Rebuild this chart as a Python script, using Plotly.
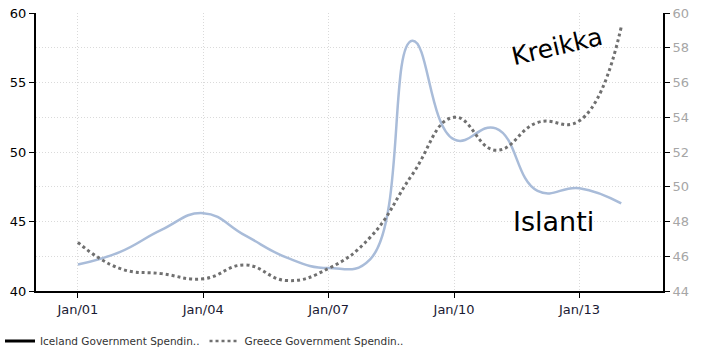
import plotly.graph_objects as go

years = ["2001-01-01", "2002-01-01", "2003-01-01", "2004-01-01", "2005-01-01",
         "2006-01-01", "2007-01-01", "2008-01-01", "2009-01-01", "2010-01-01",
         "2011-01-01", "2012-01-01", "2013-01-01", "2014-01-01"]
iceland = [41.9, 42.8, 44.4, 45.6, 44.0, 42.4, 41.65, 42.3, 58.0, 50.9, 51.7, 47.2, 47.4, 46.3]
greece = [46.8, 45.3, 45.0, 44.7, 45.5, 44.6, 45.3, 47.1, 50.7, 54.0, 52.1, 53.7, 53.8, 59.2]

tick_vals = ["2001-01-01", "2004-01-01", "2007-01-01", "2010-01-01", "2013-01-01"]
tick_text = ["Jan/01", "Jan/04", "Jan/07", "Jan/10", "Jan/13"]
left_ticks = [40, 45, 50, 55, 60]
right_ticks = [44, 46, 48, 50, 52, 54, 56, 58, 60]

fig = go.Figure()
fig.add_trace(go.Scatter(x=years, y=iceland, mode="lines", showlegend=False,
                         line=dict(color="#a9bcd9", width=2.5, shape="spline", smoothing=1.3),
                         yaxis="y"))
fig.add_trace(go.Scatter(x=years, y=greece, mode="lines", showlegend=False,
                         line=dict(color="#707070", width=3, dash="dot", shape="spline", smoothing=1.3),
                         yaxis="y2"))
# legend entries
fig.add_trace(go.Scatter(x=[None], y=[None], mode="lines", name="Iceland Government Spendin..",
                         line=dict(color="black", width=3)))
fig.add_trace(go.Scatter(x=[None], y=[None], mode="lines", name="Greece Government Spendin..",
                         line=dict(color="#707070", width=2.5, dash="dot")))

fig.add_annotation(text="Kreikka", x=0.831, y=0.878, xref="paper", yref="paper",
                   xanchor="center", yanchor="middle",
                   showarrow=False, textangle=-13,
                   font=dict(family="DejaVu Sans", size=25, color="black"))
fig.add_annotation(text="Islanti", x=0.825, y=0.25, xref="paper", yref="paper",
                   xanchor="center", yanchor="middle",
                   showarrow=False,
                   font=dict(family="DejaVu Sans", size=27, color="black"))

grid = "#dadada"
fig.update_layout(
    width=701, height=358,
    margin=dict(l=36, r=38, t=13, b=67, autoexpand=False),
    plot_bgcolor="white", paper_bgcolor="white",
    font=dict(family="DejaVu Sans", size=12, color="#222222"),
    xaxis=dict(type="date", range=["2000-01-01", "2015-01-01"], automargin=False,
               tickvals=tick_vals, ticktext=tick_text,
               showline=True, linecolor="black", linewidth=2,
               ticks="outside", ticklen=5, tickcolor="black",
               showgrid=True, gridcolor=grid, griddash="1px,2px", gridwidth=1,
               tickfont=dict(color="#1a1a33", size=13), zeroline=False),
    yaxis=dict(range=[40, 60], tickvals=left_ticks, automargin=False,
               showline=True, linecolor="black", linewidth=2,
               ticks="outside", ticklen=5, tickcolor="black",
               showgrid=False, zeroline=False, ticklabeloverflow="allow",
               tickfont=dict(color="black", size=13)),
    yaxis2=dict(range=[44, 60], tickvals=right_ticks, overlaying="y", side="right",
                automargin=False, ticklabeloverflow="allow",
                showline=True, linecolor="black", linewidth=2,
                ticks="outside", ticklen=5, tickcolor="black",
                showgrid=True, gridcolor=grid, griddash="1px,2px", gridwidth=1,
                zeroline=False, tickfont=dict(color="#a6a6a6", size=13)),
    legend=dict(orientation="h", xref="container", yref="container",
                x=-0.021, y=0.0475, xanchor="left", yanchor="middle",
                font=dict(family="DejaVu Sans", size=10.5, color="#333333"),
                itemwidth=30, bgcolor="rgba(0,0,0,0)"),
)

fig.write_html("out.html", config={"displayModeBar": False},
               post_script="document.body.style.margin='0px';")
